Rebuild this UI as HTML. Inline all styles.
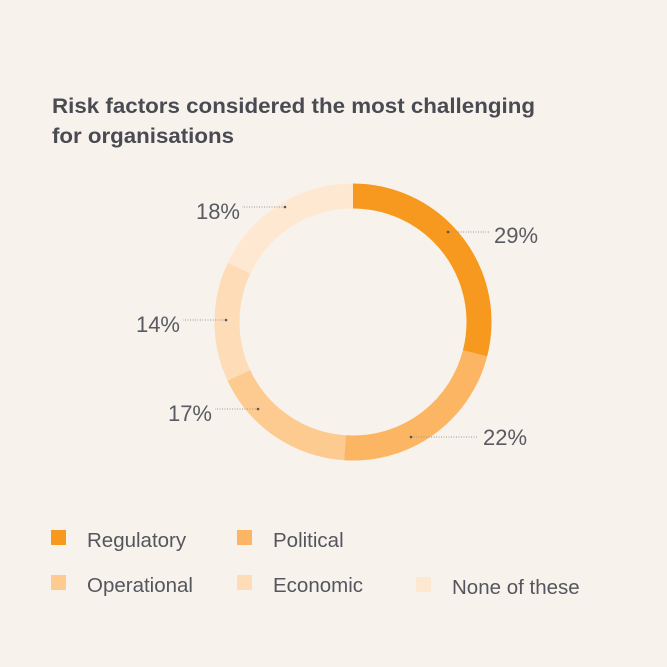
<!DOCTYPE html>
<html><head><meta charset="utf-8"><style>
body{margin:0;background:#f7f3ec;}
svg{display:block;font-family:"Liberation Sans",sans-serif;}
</style></head><body>
<svg width="667" height="667" viewBox="0 0 667 667">
<rect width="667" height="667" fill="#f7f3ec"/>
<text x="52" y="113" font-size="21.5" font-weight="bold" fill="#4a4a52" textLength="483" lengthAdjust="spacingAndGlyphs">Risk factors considered the most challenging</text>
<text x="52" y="143" font-size="21.5" font-weight="bold" fill="#4a4a52" textLength="182" lengthAdjust="spacingAndGlyphs">for organisations</text>
<g transform="rotate(-90 353 322)" fill="none" stroke-width="25">
<circle cx="353" cy="322" r="126" stroke="#f7991f" stroke-dasharray="229.6 791.7" stroke-dashoffset="0"/>
<circle cx="353" cy="322" r="126" stroke="#fbb563" stroke-dasharray="174.2 791.7" stroke-dashoffset="-229.6"/>
<circle cx="353" cy="322" r="126" stroke="#fdca8f" stroke-dasharray="134.6 791.7" stroke-dashoffset="-403.8"/>
<circle cx="353" cy="322" r="126" stroke="#fddcb7" stroke-dasharray="110.8 791.7" stroke-dashoffset="-538.4"/>
<circle cx="353" cy="322" r="126" stroke="#fee8d2" stroke-dasharray="142.5 791.7" stroke-dashoffset="-649.2"/>
</g>
<g stroke="#999" stroke-width="1" stroke-dasharray="1 1.5">
<line x1="448" y1="232" x2="490" y2="232"/>
<line x1="411" y1="437" x2="478" y2="437"/>
<line x1="258" y1="409" x2="215" y2="409"/>
<line x1="226" y1="320" x2="183" y2="320"/>
<line x1="285" y1="207" x2="242" y2="207"/>
</g>
<g fill="#555">
<circle cx="448" cy="232" r="1.3"/><circle cx="411" cy="437" r="1.3"/><circle cx="258" cy="409" r="1.3"/><circle cx="226" cy="320" r="1.3"/><circle cx="285" cy="207" r="1.3"/>
</g>
<g font-size="22" fill="#5a5a62">
<text x="494" y="243">29%</text>
<text x="483" y="445">22%</text>
<text x="212" y="421" text-anchor="end">17%</text>
<text x="180" y="332" text-anchor="end">14%</text>
<text x="240" y="219" text-anchor="end">18%</text>
</g>
<rect x="51" y="530" width="15" height="15" fill="#f7991f"/>
<rect x="237" y="530" width="15" height="15" fill="#fbb563"/>
<rect x="51" y="575" width="15" height="15" fill="#fdca8f"/>
<rect x="237" y="575" width="15" height="15" fill="#fddcb7"/>
<rect x="416" y="577" width="15" height="15" fill="#fee8d2"/>
<g font-size="20.5" fill="#55555d">
<text x="87" y="547">Regulatory</text>
<text x="273" y="547">Political</text>
<text x="87" y="592">Operational</text>
<text x="273" y="592">Economic</text>
<text x="452" y="594">None of these</text>
</g>
</svg>
</body></html>
